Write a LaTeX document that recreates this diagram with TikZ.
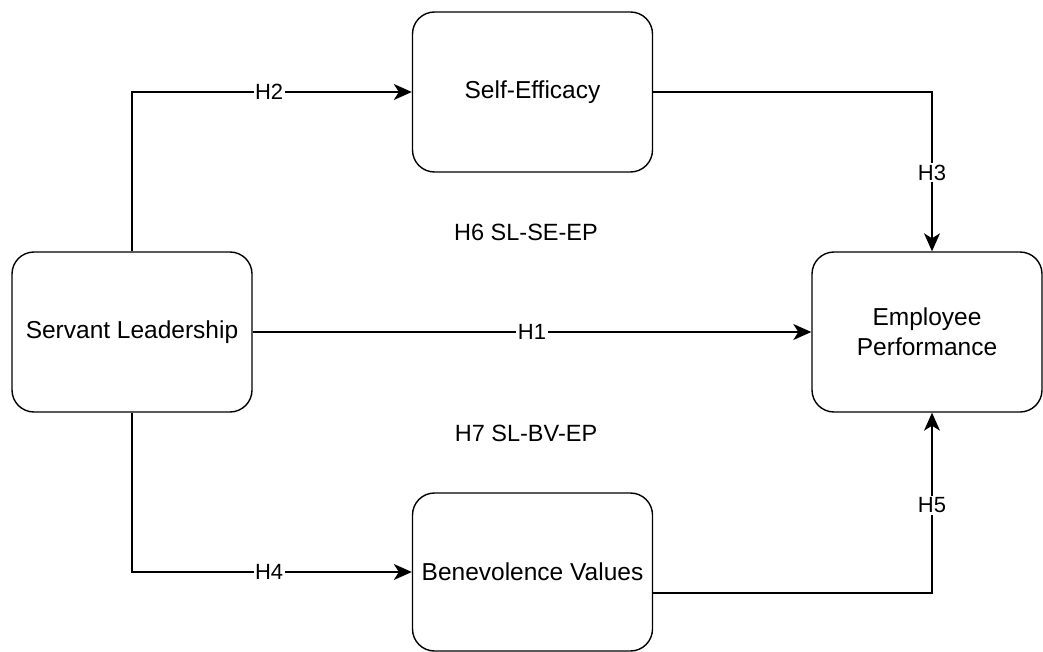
\documentclass[tikz,border=0pt]{standalone}
\usepackage{fontspec}
\setmainfont{Liberation Sans}
\usetikzlibrary{arrows, arrows.meta}

\tikzset{
  box/.style={draw, line width=1.4pt, rounded corners=22pt, minimum width=240pt, minimum height=160pt, align=center, font=\fontsize{24.5}{30}\selectfont},
  hyp/.style={fill=white, inner sep=1.5pt, font=\fontsize{22}{24}\selectfont},
  link/.style={line width=1.4pt, -{Stealth[length=18pt,width=16pt,inset=5pt]}},
}

\begin{document}
\begin{tikzpicture}[x=1pt,y=-1pt]
\useasboundingbox (0,0) rectangle (1043,652);
\clip (0,0) rectangle (1043,652); %page frame

\node[box] (sl) at (132,332) {Servant Leadership};
\node[box] (se) at (532.5,92) {Self-Efficacy};
\node[box, minimum height=158pt] (bv) at (532.5,572) {Benevolence Values};
\node[box, minimum width=230pt] (ep) at (927,332) {Employee\\Performance};

\node[font=\fontsize{23.5}{28}\selectfont] (h6) at (526,232) {H6 SL-SE-EP};
\node[font=\fontsize{23.5}{28}\selectfont] (h7) at (526,433) {H7 SL-BV-EP};

\draw[link] (sl.east) -- node[hyp] {H1} (ep.west);
\draw[link] (sl.north) |- node[hyp, pos=0.745] {H2} (se.west);
\draw[link] (se.east) -| node[hyp, pos=0.753] {H3} ([xshift=5pt]ep.north);
\draw[link] (sl.south) |- node[hyp, pos=0.745] {H4} (bv.west);
\draw[link] ([yshift=-21pt]bv.east) -| node[hyp, pos=0.743] {H5} ([xshift=5pt]ep.south);

\end{tikzpicture}
\end{document}
